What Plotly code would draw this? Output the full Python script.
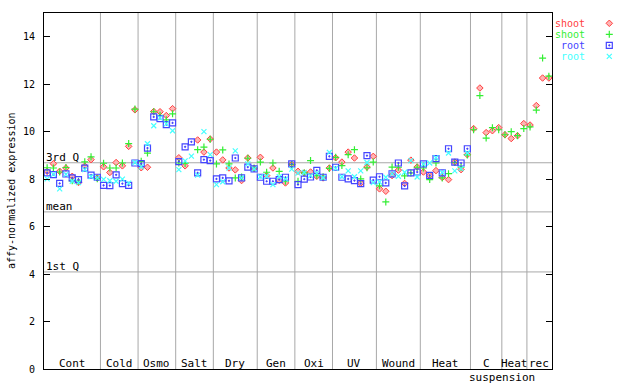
import plotly.graph_objects as go

# ---------------- data ----------------
groups = ["Cont", "Cold", "Osmo", "Salt", "Dry", "Gen", "Oxi", "UV", "Wound", "Heat", "C", "Heat", "rec"]
group_sizes = [9, 6, 6, 6, 7, 6, 6, 7, 7, 8, 5, 4, 4]
sub_label = "suspension"          # second line of the "C" group label
sub_label_group = 10              # index of the group it belongs to

shoot_red = [8.33, 8.65, 8.33, 8.47, 8.12, 7.86, 8.55, 8.82, 8.05,
             8.52, 8.28, 8.70, 8.56, 9.38, 10.92,
             8.48, 8.50, 10.85, 10.84, 10.68, 10.97,
             8.90, 8.56, None, 9.65, 9.14, 9.69,
             9.14, 8.81, 8.47, 8.39, 7.94, 8.89, 8.45,
             8.92, 8.15, 8.47, 7.95, 7.84, 8.62,
             8.33, 8.26, 8.30, 8.12, 8.05, 8.47,
             8.90, 8.72, 9.14, 8.89, 7.83, 8.51, 8.96,
             7.59, 7.49, 8.15, 8.38, 7.82, 8.80, 8.51,
             8.30, 8.16, 8.36, 8.07, 7.98, 8.72, 8.40, 9.03,
             10.13, 11.84, 9.96, 10.04, 10.17,
             9.87, 9.71, 9.83, 10.34,
             10.28, 11.10, 12.26, 12.26]

shoot_green = [8.48, 8.47, 8.30, 8.49, 7.93, 7.91, 8.73, 8.94, 8.02,
               8.67, 8.47, 8.47, 8.68, 9.50, 10.95,
               8.75, 9.10, 10.84, 10.69, 10.50, 10.75,
               8.68, 8.66, None, 9.24, 9.35, 9.68,
               8.64, 9.23, 8.64, 8.05, 8.09, 8.88, 8.47,
               8.72, 8.29, 8.68, 8.33, 7.91, 8.62,
               7.91, 8.26, 8.78, 8.15, 8.10, 8.45,
               8.92, 8.57, 9.03, 9.24, 8.01, 8.48, 8.72,
               7.72, 7.04, 8.51, 8.50, 8.14, 8.26, 8.50,
               8.47, 7.98, 8.68, 8.05, 8.23, 8.70, 8.50, 9.02,
               10.08, 11.52, 9.73, 10.17, 10.08,
               9.87, 10.00, 9.83, 10.13,
               10.20, 10.91, 13.10, 12.34]

root_blue = [8.26, 8.19, 7.82, 8.22, 8.05, 7.98, 8.46, 8.17, 8.08,
             7.74, 7.73, 8.18, 7.81, 7.74, 8.68,
             8.65, 9.31, 10.62, 10.55, 10.30, 10.37,
             8.74, 9.36, 9.57, 8.26, 8.82, 8.78,
             8.01, 8.05, 7.93, 8.89, 8.05, 8.51, 8.43,
             8.08, 7.91, 7.91, 7.98, 8.08, 8.64,
             7.77, 8.00, 8.09, 8.37, 8.08, 8.96,
             8.50, 8.08, 8.01, 7.94, 7.81, 8.99, 7.96,
             8.10, 7.84, 8.22, 8.68, 7.72, 8.26, 8.30,
             8.64, 8.16, 8.86, 8.26, 9.28, 8.72, 8.68, 9.28]

root_cyan = [8.01, 8.20, 7.59, 8.20, 7.91, 7.85, 8.40, 8.11, 8.05,
             7.99, 7.93, 7.91, 8.00, 7.83, 8.70,
             8.52, 9.49, 10.25, 10.58, 10.33, 10.04,
             8.40, 8.77, 8.97, 8.17, 10.00, 9.03,
             7.77, 7.89, 8.47, 9.19, 8.05, 8.64, 8.43,
             8.10, 8.12, 7.77, 8.10, 8.00, 8.42,
             8.25, 8.28, 8.15, 8.25, 8.06, 9.13,
             8.45, 8.10, 8.35, 8.10, 8.35, 8.70, 7.85,
             7.88, 8.08, 8.22, 8.12, 8.29, 8.78, 8.09,
             8.63, 8.68, 8.90, 8.28, 9.10, 8.35, 8.44, 9.10]

series_names = ["shoot", "shoot", "root", "root"]
quartile_values = [8.69, 6.62, 4.09]
quartile_labels = ["3rd Q", "mean", "1st Q"]
y_ticks = [0, 2, 4, 6, 8, 10, 12, 14]
y_title = "affy-normalized expression"

# ---------------- styles ----------------
FONT = "DejaVu Sans Mono"
RED, GREEN, BLUE, CYAN = "#ff4040", "#33ee33", "#4444ff", "#44ffff"
GRID = "#a8a8a8"

n = sum(group_sizes)
xs = list(range(1, n + 1))


def pad(vals):
    return vals + [None] * (n - len(vals))


# body margin is removed in the page (post_script), so the figure fills the window
W, H = 640, 384
ML, MT, MB = 44, 13, 15
PLOT_W = 508
dom = PLOT_W / (W - ML)
PLOT_H = H - MT - MB

styles = [
    dict(symbol="diamond", size=5, color="#ffb4b4", line=dict(color=RED, width=1)),
    dict(symbol="cross-thin-open", size=5, color=GREEN, line=dict(color=GREEN, width=1.2)),
    dict(symbol="square-open-dot", size=6, color=BLUE, line=dict(color=BLUE, width=1.2)),
    dict(symbol="x-thin-open", size=5, color=CYAN, line=dict(color=CYAN, width=1.2)),
]
colors = [RED, GREEN, BLUE, CYAN]
series = [shoot_red, shoot_green, root_blue, root_cyan]

fig = go.Figure()
for vals, st, name in zip(series, styles, series_names):
    fig.add_trace(go.Scatter(x=xs, y=pad(vals), mode="markers", marker=st,
                             name=name, showlegend=False, cliponaxis=False))

# legend keys on a helper axis in the right margin (pixel offsets)
leg_rows = [10.3, 21.3, 32.3, 43.3]
for st, yy in zip(styles, leg_rows):
    fig.add_trace(go.Scatter(x=[57.3], y=[yy], mode="markers", marker=st,
                             xaxis="x2", yaxis="y2", showlegend=False, hoverinfo="skip"))

shapes = []
annotations = []

# group separators + labels
start = 0
for i, (g, s) in enumerate(zip(groups, group_sizes)):
    end = start + s
    if i < len(groups) - 1:
        shapes.append(dict(type="line", xref="x", yref="paper", x0=end + 0.5, x1=end + 0.5,
                           y0=0, y1=1, line=dict(color=GRID, width=1), layer="below"))
    annotations.append(dict(x=(start + end + 1) / 2, y=0, xref="x", yref="paper",
                            text=g, showarrow=False, xanchor="center", yanchor="bottom",
                            yshift=-3, font=dict(family=FONT, size=11, color="black")))
    if i == sub_label_group:
        annotations.append(dict(x=end + 0.5, y=0, xref="x", yref="paper",
                                text=sub_label, showarrow=False, xanchor="center", yanchor="top",
                                yshift=0, font=dict(family=FONT, size=11, color="black")))
    start = end

# quartile lines
for v, lab in zip(quartile_values, quartile_labels):
    shapes.append(dict(type="line", xref="x", yref="y", x0=0.5, x1=n + 0.5, y0=v, y1=v,
                       line=dict(color=GRID, width=1), layer="below"))
    annotations.append(dict(x=0.5, y=v, xref="x", yref="y", text=lab, showarrow=False,
                            xanchor="left", yanchor="bottom", yshift=-3,
                            font=dict(family=FONT, size=11, color="black")))

# legend texts
for name, c, yy in zip(series_names, colors, leg_rows):
    annotations.append(dict(x=34, y=yy, xref="x2", yref="y2", text=name, showarrow=False,
                            xanchor="right", yanchor="middle", borderpad=0,
                            font=dict(family=FONT, size=10, color=c)))

# y title
annotations.append(dict(x=-33 / (W - ML), y=0.5, xref="paper", yref="paper", text=y_title,
                        textangle=-90, showarrow=False, xanchor="center", yanchor="middle",
                        font=dict(family=FONT, size=10, color="black")))

fig.update_layout(
    width=W, height=H,
    margin=dict(l=ML, r=0, t=MT, b=MB, pad=0),
    plot_bgcolor="white", paper_bgcolor="white",
    showlegend=False,
    shapes=shapes, annotations=annotations,
    xaxis=dict(domain=[0, dom], range=[0.5, n + 0.5], showgrid=False, zeroline=False,
               showticklabels=False, ticks="", showline=True, linecolor="black",
               linewidth=1, mirror=True, fixedrange=True),
    yaxis=dict(range=[0, 15], tickvals=y_ticks, ticks="inside", ticklen=6, tickcolor="black",
               showgrid=False, zeroline=False, showline=True, linecolor="black", linewidth=1,
               mirror="allticks", ticklabelstandoff=6,
               tickfont=dict(family=FONT, size=10, color="black")),
    xaxis2=dict(domain=[dom, 1], range=[0, W - ML - PLOT_W], visible=False, anchor="y2"),
    yaxis2=dict(domain=[0, 1], range=[PLOT_H, 0], visible=False, anchor="x2"),
)

fig.write_html("out.html",
               config={"displayModeBar": False},
               post_script="document.body.style.margin='0';document.body.style.overflow='hidden';")
